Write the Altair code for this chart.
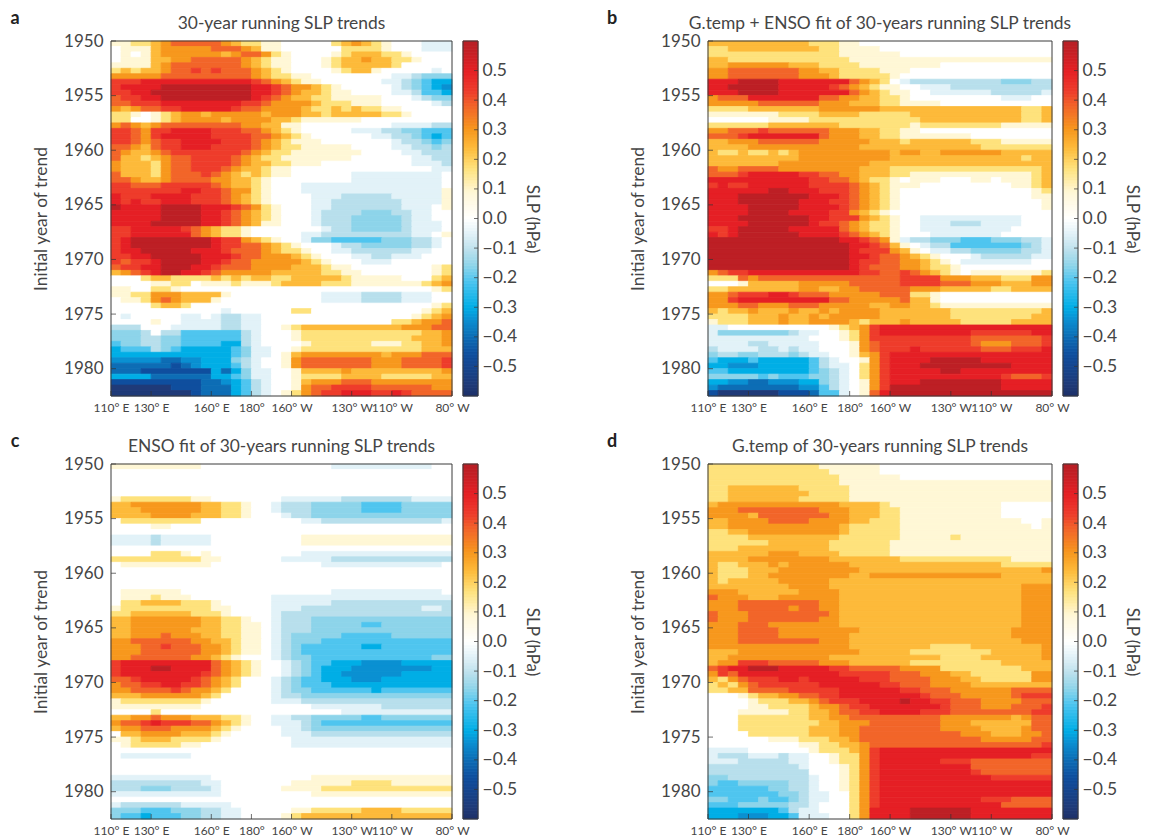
import altair as alt
import pandas as pd

alt.data_transformers.disable_max_rows()

LEVEL_KEYS = list('IHGFEDCBA.abcdefgh')
LEVEL_COLORS = ['#1F3A78', '#0F4E9E', '#0D6DB5', '#0A90D2', '#00AEE6', '#4FC5EF', '#8DD4EA', '#B8DFEC', '#E2F2F8',
                '#FFFFFF', '#FFF7D6', '#FEE27C', '#FDBA3A', '#F7981D', '#F26529', '#EE3C2B', '#E51F25', '#BD1F25']
BAR_STOPS = [-.6, -.56, -.46, -.4, -.34, -.3, -.21, -.16, -.11, -.05, 0, .09, .17, .24, .3, .38, .43, .5, .58, .6]
BAR_COLORS = ['#1D3068', '#1F3A78', '#0F4E9E', '#0D6DB5', '#0A90D2', '#00AEE6', '#4FC5EF', '#8DD4EA', '#B8DFEC',
              '#E2F2F8', '#FFFFFF', '#FFF7D6', '#FEE27C', '#FDBA3A', '#F7981D', '#F26529', '#EE3C2B', '#E51F25',
              '#BD1F25', '#B81E25']
YEAR_TICKS = [1950, 1955, 1960, 1965, 1970, 1975, 1980]
LON_TICKS = [110, 130, 160, 180, 200, 230, 250, 280]
BAR_TICKS = [-.5, -.4, -.3, -.2, -.1, 0, .1, .2, .3, .4, .5]

PANEL_A = """
aabbcdeeee edcbbaa... ..bcdcba.. .AAA
.aaacddddd eeedcaa... ...bbbba.. .AAA
.a.acddddd dcdeedba.. ..abcccbba ....
.aaaccddee eeedcbaa.. .abccdccbb a...
aaaacdeeee eeedcbaa.. .abcccccb. ....
bcbccdeefe feeedcba.. ..abcca... ..A.
dddddeeeee eeeedcbbaa ........AA BCCC
fffggggggg ggggfedcba a......AAB CDEE
fgggghhhhh hhhhggfedd cba.....AB CDEF
ffgghhhhhh hhhhggfedc cbaa....AA BDDE
effgghhhhh hhhhgfedcc bbaaaaa... ABCC
eefffggggg gggffedddd cbbbaaa... ..AB
dcdeeffggg ggfeeddddc bbcbcbbaa. ....
bba.abcddc dddddcdddc cbcccccbba ....
bb..abcddd dcddddccba aaaaa..... ....
dedcdeeeee eeeddccaa. ........AA AABB
ffedffgggg fffeedcba. ....AAABBC CDDD
ffedfggggg ffffeedcba ......AABB CDED
ffedeffggg gfffedcbaa a.......AB BCDC
eedceffggg ffffedcbba aaaa....AA BBCB
edccdeffff fffedcbbaa aaaaa....A ABBB
eccbcdeeff ffedcbbaaa aaaa...... AABB
dcccbdeeff ffedccbbaa a......... AAAB
dcccbdeeff fedccbaa.. .......... ..AA
ecccbdeeef edcbcbaa.. ....AAAAAA AAA.
eedccdeeee ddccba.... ....AAAAAA AAA.
ffeeefffff edccba...A AAAAAAAAAA AAA.
fffffffggf feddba...A AAAAAAAAAA AAAa
gfffggggff fedcba.... AAABBBBBAA AAAa
gfgffgggff fedcba.... AABBBBBBBA AAAa
hgggghhhhg ggfedba... AABBBBBBBA AA.a
ggggghhhhg gfedcba... ABBBBCCCBB AA..
ggggghhhhg gfedcba... ABBBCCCCCB AA..
gggghhhhhg gfedcaa... ABBBCCCCCB AAA.
ffgggggfed cbba...... .ABBCCCCCB AAA.
ffgggggged cbba.....A ABBBBBBBBB AA.a
fghhhhhhhh gffdcba..A CCDDDDDCCC BBA.
fghhhhhhhh gffeedcba. ..ABBCCCCC BBA.
fgghhhhhgg gfeeedcbba ..AABBBBBB AA..
ffgghhhhhg ggfeedddcb a...AABBAA A...
feffghhhhg gfeedddddc ba...AAA.. ....
effgghhhgg feeeddddcc cbaa...... ..ab
cdefghhggf edddddcccc cbbaa..... ..ab
...bccbbbb cbcbccbbcc cccbaaaaa. ..bc
....aabb.a aabaaabccc cbbbaaaaaa abcd
aa..bba... .......... .......... ..ab
aabbdddccc ca........ .AAAABBBBA AA..
.aabdedccc a......... .AAAABBBBA AA..
....bccb.. .......... .......... ..ab
.......... .A......bb .......... .abc
.A.....AA. ABBAA..... .......... abcd
....a..AAA ABBAA..... ........bb cdde
BBB...AAAA ABBAA..abc cccccccccd ddee
CCCB.BBDDD DDDBA...ab bbbbbbbbbb bccd
CCCBBCCDDD DDDBA...ab bbbbbbbbbb cccd
DCCBBCCDDD DEEBA....a bbbbbbaaab bccd
EDDDBCDEEE EEDCAA..ab bbbbbbbbbb bccc
EEEEEEEEEE EEDCAA.acd dddddddcdd deee
FFFFFGGFFE EECBA..ade eeeeeeddde eeef
GGGGGGHGFE EEDBA..ade eeeeeeddde eeef
GGGHHHHHHH EGECAA..ac cccdcccccc cccd
EEEEGGGGGG EEDCAA..ab bbbccccbbb bbcc
HHHHHHHHHG GFEDBA..ac dddeeedddd dddd
IIIIIIHHHG GGEDBA..ad eeffffeeee eedd
IIIIIIIIHG GGEDBA.abd effgggffgf eeee
"""

PANEL_B = """
cccccccccc bbbaa..... .......... ....
bbcccccccc cbbaaaa... .......... ....
bbbbbbbbbb bbbaaaaaa. .......... ....
ccbbbbbbbb bbbbaaaaaa aaaaaaaaaa aaaa
ccddddddcc cbbbbaaaaa aaa....... ....
ddeeeeeeed dccbbbbaaa .......... ....
ddeeeeeeed ddcbbbbba. .......... ....
ggghhhhggg ggggedcb.A BBBBBBBBBC CCBB
gghhhhhggg ggfedcbaa. .AAABBBBBB BBBB
ggghhhhggg ggggedcbaa ..AAAAAABB BBBA
deeegggggg geeddccbba .........A AA..
dddddeeeee edddcccbba aaa....... ....
bbbbcccccc cddddddccc cccccccccc cbbc
aaaaaaabbb bccccbbbbb cccccccccc cbbc
......aaaa bbbbbbbbbb bccccccccc cbbc
bbbbbbcccc cccbbbbbbb abbbbbbbba aaaa
ddeeefeeee eedddccbba a......... ....
eeefgggggg gedddccbba aaaaaa.... ....
ccdddeeeee edddddcccb ccccccbbba aaaa
ccccdddddd dddddccccc cccccccbbb bbbb
cbbcbbcbcd ddddddddcd dccddddddc cccc
cccccccccd ddddddddcc cccccccccc cbcc
cccccccddd ddddddcccc cccccccccc cccc
eddeeeeddd dddddcccbb bbbbbbbbbb bbbc
eeefgggggf feeddcccbb aaaaaaaaaa aabc
gggggggggg ffeedcbba. aaa...aa.a aabc
fgffgggggg ffffedcbaa a......... aabc
gggggghhgg gfffedcba. .......... ..ab
ggghhhhhhh gggfedcba. .......... ..aa
ggghhhhhhg ggffedcba. .......... ...a
gggghhhhhg gggfedcba. .......... ...a
gggghhhhgg ggffdcba.. .......... ....
ggghhhhhhh ggfffdcba. .AAAAAAAAA A...
gggghhhhhh gffedcbba. .AAABBBAAA A...
ffghhhhhgg gggedcbba. .AAAAAAAAA ....
gfghhhhhhg gggfedcba. ..AAAAAAA. ....
hhhhhhhhhh hhhggfedaA BBCCCDDDCC CBBA
hhhhhhhhhh hhhhggfeca .ABBDDDDDD DCBA
hhhhhhhhhh hhhhgfffdc a.AABBCCCC CBBA
hhhhhhhhhh hhhhggfeed cba...ABBB BBAA
hhhhhhhhhh hhhhgffeed dcba.AAAAA AA..
hhhhhhhhhh hhhhgfeeed dcbba..... ....
deffgggggg gggggffeef edcba.aaaa aaab
bbbedeeeee eeeeeeeeef fffdddcccb bbdd
...acccccd ddddeeeeef fffeeedddc ccdd
bbcccccccd dccddeeeee dddcccccbb cccc
ddefffggfe eedddddeee bba....... ....
ddfggggggg ggeeddddde cca....... ....
dddeedddee edddddccdd ccbaaaaaaa aaaa
cbccdcccdc cdcddddccc ccccbbbbbb bbbc
bbbbcccdcc dcdddddccc ccccbbbbbb bbcc
abbbcccdcc ddddcbcccd cccccbbbbb cccc
AA........ ..abcdfggg gggggggggg gggg
ACCCCCCCBA A..abdfggg ggggggffff ffgg
AAAAAAAAAA ...abdffff ffffffeeee eeef
AAAABBAAAA A...adefff ffffffeddd eeef
BAAAABBABA A...adefff gffffffeee fffg
CBBCCBBBCB AA..acdfgg gggggggggg gggg
DEEEDEEEEE DBA..adfgg gghhhhhggg gggg
EEFFFEEEEE DBAA.bdfgg ghhhhhhhhh gggg
DDEEEEEEEE DCBA.bdfgg ggghhggggg gggg
CCCCCDCDDD CCBA.bdfgg gggggggggf eeef
EEFFGGFFFE ECBA.adfgg ghhhhhhhhg gggg
FGGGGGGGGF FDBA.adfhh hhhhhhhhhg gggg
HIIIIIIHHH GDDA.aeghh hhhhhhhhhh hhhh
"""

PANEL_C = """
aaaaaaaaa. .......... ..AAAAAAAA AA..
.......... .......... .......... ....
.......... .......... .......... ....
.......... .......... .......... ....
.......... .......... .......... ....
.......... .......... .......... ....
abbbbbbbaa .......AAA AAABBBBBBB AAAA
ccdddddddc cbba..ABBB CCCCCDDDDC CCCC
cccddddddc cbba..ABBB CCCCCDDDDC CCCC
ccccddddcc cbba...ABB CCCCCCCCCC CCCC
.bbbbbbbb. .........A ABBBBBBBBB BBBA
....aa.... .......... .......... ....
.......... .......... .......... ....
AAAABAAAAA .........a aaaaaaaaaa aaaa
AAAABAAAAA .........a aaaaaaaaaa aaaa
.......... .......... .......... ....
....bbba.a .........A AAAAAAAAAA AAAA
bbbbbbbbba a......AAA AABBBBBBBB BBBB
.aaaaaaaaa .......... .AAAAAAAAA AAA.
.......... .......... .......... ....
.......... .......... .......... ....
.......... .......... .......... ....
.......... .......... .......... ....
.aaaaaa... .......... ..AAAAAAAA AAA.
.aaabaaa.. ......AAAA AAAAAAAAAA AAAA
.bbccccbbb a.....AAAA AABBBBBBBB BBBB
abbbbbbbbb aa....AAAB BBBBBBBBBB BAAB
bbccccccbb ba....ABBB BBBBBBBBBB BBBB
ccdddddddc cbba..ABBB CCCCCCCCCC CCCC
ccdddddddc cbbaa.ABBB CCCCCDDCCC CCCC
ccddddddcc cbbaa.ABBB CCCCCCCCCC CCCC
ccdddedddc cbbaa.ABCC CCCDDDDDCC CCCC
ddeeeeeedd ccbaa.ABCC CDDDDDDDDD DDDD
dddeefeeed dcbaa.ABCD DDDDDEEDDD DDDD
dddeeeeeed dcbaa.ABCD DDDDDDDDDD DDDD
ddeeeeeedd cba...ABCC DDDDDDDDDD DDCC
fggggggggg edcba..ABC DDEEEFFFFE EEEE
fggghhgggg edcba..ABC DEEEFFFFFF FFEE
fggggggggf edcba..ABC DEEFFFFFFE EEEE
eefgggggfe dcb...ABCD DEEEFFFEEE EEEE
deeffggffe dcb...ABCD DDEEEEEEEE EEEE
ddeeeefedd cb....ABCC DDDDDDEDDD DDDD
cccddddddc b.....ABBC CCCCCCCCCC CCCC
abbbbbbbba ......AAAB BBBBBBBBBB BBBB
aaaaaaaaa. .......... AAAAAAABBB BBBB
....b..... .......... ...AAAAAAA AAAA
ccddedddcc cbba..AABB CCCCCDDCCC CCCC
deefgfffee dcba..AAAB CDDDDDDDDD DDDD
cddeeedddd cba....AAB CCCCCCCCCC CCCC
.ccddddccc ba.....AAA BBBBBBBBBB BBBB
aabcccbbbb a.......AA AAAAAAAAAA AAAA
.abbbbbaa. ........AA AAAAAAAAAA AAAA
.......... .......... .......... ....
.AAAAAAA.. .......... .......... ....
.......... .......... .......... ....
.......... .......... .......... ....
.......... .......... .......... ....
AAAAAAAAAA .......... aaaaaaaaaa aaaa
BBBBBBBBBA A.......aa aaaabbbbaa aaaa
BBBCCCBBBB A......aaa abbbbbbbbb bbbb
AAAAAAAAAA A......... aaaaaaaaaa aaaa
.......... .......... .......... ....
ABBBBBBAAA AA........ .......... ....
CCCDDDCCCB BAA.....aa bbbbbccccb bbbb
CDDEDDDCCB BAA....abc cccccccccc cccc
"""

PANEL_D = """
bbbbbbbbbb baaaaaa... .......... ....
bbbbbbbbbb bbaaaaa... .......... ....
bbbbbbbbbb bbbaaaaaa. .......... ....
bbbbbbbbbb bbbaaaaaaa aaaaaaaaaa aaaa
bbcccccccb bbbbaaaaaa aaaaaaaaaa aaaa
bbcccccccc bbbbaaaaaa aaaaaaaaaa aaaa
bbcccccccb bbbbaaaaaa aaaaaaaaaa aaaa
cddddddddd dddccccbaa aaaaaaaaa. ....
dddeeeeeee edddcccbba aaaaaaaaa. ....
ddddceeeee eeddcccbba aaaaaaaaa. ....
ccddddeeee ddddccbbba aaaaaaaaaa a..a
ccdddddddd dddcbbbbba aaaaaaaaaa aa.a
bbccdddddd dddcbbbbba aaaaaaaaaa aaaa
bbbbcccccc cccbbbbbba aaaabaaaaa aaaa
bbbbbbcccc ccbbbbbbaa aaaaaaaaaa aaaa
bbbccccccc ccbbbbbbaa aaaaaaaaaa aaaa
ccccccdddc cccbbbbbaa aaaaaaaaaa aaaa
ccccdddddd ddcccccccb bbbbbbbbbb aaaa
cbbcccdcdd ddddcccccc cccccccccb bbbb
cbbbcccddd dddddccccc cccccccccc cccd
cbbbccdddd ddddccdddd dddddddddc cccc
cbcccccddd ddcccccccc cccccccccc cccc
ccccccccdd ddcccccccc cccccccccc cddd
dddccccccd dddccccccc cccccccccc cddd
edddcccddd dddccccccc cccccccccc cddd
dddeeeeeee eddccccccc cccccccccc cddd
dddeeeeede eddccccccc cccccccccc cddd
edddeeeeee eedccccccc cccccccccc cddd
edddeeeeee eddccccccc cccccccccc cddd
dddeeedddd dddccccccc cccccccccc cddd
dddeeeeddd dddddccccc cccccccccc dddd
dddeeeeddd ddddcccccc cccccccccc dddd
dddeeeeeee edddcccccc cccccccccc cddd
dddddddddd ddddcccccc ccbbbbcccc cccd
cccddddddd dddddccccc bbbbbbbbcc cccd
ccdddddddd ddcccccccc cccbbbbccc cccd
cddfffeeee edddcccccc bbbbbbbbbc cccc
efgghhhggg ggffeeeeed dddbbbbbbb bccc
dfeggggggg gggfffffee edddccbbbb bbdd
cbdefffggf gggggfffee eedddccbbb bbdd
bcbdefffff fggggggffe eeddddcccc cccc
bbcceeeeff fffggggggf feeedddddd eeee
...abccdde effggggggg gfeeeddddd efff
....abbbcc defffggggh ggffeeeddd deee
....aabbbb cddeffgggg gggfeeeddd eeef
...aaaaabb ccdeeffggg gfffeeeeee eeff
...bbbbbbb ccddeeeeee eeeddddddd cdee
...bbbbbbb bccdddeeee eeedddcccc ccee
...bbbbbbb cccddeeeee eeeddddccc cdee
....bbbbbb cccddeeeee eeeeedddcc cdde
......aaab bbccdeeeee eeeeeeeddd ddee
.........a abbccdeeee eeeeeeeeee eeef
AAAA...... abbbcdfggg gggggggggg gggg
ABBBAAABAA ..abbdfggg gggggggggg ggff
AAABBBBBAA ..abbdfggg gggfffeeee eeee
BBBBBBBBBA ...abdfggg ggggggeeee eeee
BBBBBBBBBB ...abdfggg ggggggfeee eeee
CCBBBBBBBB A..abdfggg ggggggggff ffff
CDDCCCCCBB A..abdfggg gggggggggg gggg
DDDDDDCCBB A..abdfggg gggggggggg gggg
DDDDDDDCCB AA..bdfggg gggggggggg gggg
CCDDDCDDCB AA..bdfggg gggggggfff eeee
DDDCCCCCBB A...bdfggg ggggggggge eeee
EEEEEEEDBA A...bdgggg hhhhhhgggg gggg
EEEFFFEEDA AA..bdgggg hhhhhhgggg gggg
"""

TEXT = '#454545'
FONT = 'Lato'
HEIGHT = 355
YEAR0, YEAR1 = 1950, 1982.5
LON0, LON1 = 110, 280
STEP_LON, STEP_YEAR = 5, 0.5

level_scale = alt.Scale(domain=LEVEL_KEYS, range=LEVEL_COLORS)
bar_color_scale = alt.Scale(domain=BAR_STOPS, range=BAR_COLORS, interpolate='rgb')
x_scale = alt.Scale(domain=[LON0, LON1], nice=False, zero=False)
y_scale = alt.Scale(domain=[YEAR0, YEAR1], nice=False, zero=False, reverse=True)
bar_scale = alt.Scale(domain=[-.6, .6], nice=False)

x_axis = alt.Axis(
    values=LON_TICKS, ticks=False, domain=False, grid=False, title=None, labelOverlap=False,
    labelFontSize=12, labelColor=TEXT, labelFont=FONT, labelPadding=6, labelFlush=False,
    labelExpr="datum.value < 180 ? datum.value + '° E' : datum.value == 180 ? '180°' : (360 - datum.value) + '° W'")
y_axis = alt.Axis(
    values=YEAR_TICKS, format='d', ticks=False, domain=False, grid=False,
    title='Initial year of trend', titleFontSize=17.4, titleFontWeight='normal', titleColor=TEXT,
    titleFont=FONT, titlePadding=13, labelFontSize=17, labelColor=TEXT, labelFont=FONT, labelPadding=8)
bar_axis = alt.Axis(
    values=BAR_TICKS, ticks=False, domain=False, grid=False, orient='right', title='SLP (hPa)',
    titleFontSize=17, titleFontWeight='normal', titleColor=TEXT, titleFont=FONT, titlePadding=6,
    labelFontSize=17.5, labelColor=TEXT, labelFont=FONT, labelPadding=4,
    labelExpr="replace(format(datum.value, '.1f'), '-', '−')")


def table(text):
    recs = []
    for i, row in enumerate(text.strip().splitlines()):
        row = row.replace(' ', '')
        row = row[:34].ljust(34, row[-1])
        start = 0
        for j in range(1, 35):
            if j == 34 or row[j] != row[start]:
                recs.append({'lon': LON0 + STEP_LON * start, 'lon2': LON0 + STEP_LON * j,
                             'yr': YEAR0 + STEP_YEAR * i, 'yr2': YEAR0 + STEP_YEAR * (i + 1),
                             'k': row[start]})
                start = j
    return pd.DataFrame(recs)


def panel(text, title, letter, width):
    base = alt.Chart(table(text)).mark_rect(strokeWidth=0.8).encode(
        x=alt.X('lon:Q', scale=x_scale, axis=x_axis),
        x2='lon2:Q',
        y=alt.Y('yr:Q', scale=y_scale, axis=y_axis),
        y2='yr2:Q',
        color=alt.Color('k:N', scale=level_scale, legend=None),
        stroke=alt.Stroke('k:N', scale=level_scale, legend=None),
    )
    yt = alt.Chart(pd.DataFrame({'t': YEAR_TICKS})).mark_tick(orient='horizontal', size=5, thickness=1, color='#333').encode(
        y=alt.Y('t:Q', scale=y_scale, axis=y_axis), x=alt.value(2.5))
    xt = alt.Chart(pd.DataFrame({'t': LON_TICKS})).mark_tick(orient='vertical', size=5, thickness=1, color='#333').encode(
        x=alt.X('t:Q', scale=x_scale, axis=x_axis), y=alt.value(HEIGHT - 2.5))
    frame = alt.Chart(pd.DataFrame({'k0': [0]})).mark_rect(fill=None, stroke='#3a3a3a', strokeWidth=1).encode(
        x=alt.value(0), x2=alt.value(width), y=alt.value(0), y2=alt.value(HEIGHT))
    label = alt.Chart(pd.DataFrame({'t': [letter]})).mark_text(
        fontSize=18, fontWeight='bold', font=FONT, color='#222', align='center', baseline='middle').encode(
        text='t:N', x=alt.value(-96), y=alt.value(-22))
    head = alt.Chart(pd.DataFrame({'t': [title]})).mark_text(
        fontSize=17.4, font=FONT, color=TEXT, align='center', baseline='middle').encode(
        text='t:N', x=alt.value(width / 2), y=alt.value(-17))
    return alt.layer(base, yt, xt, frame, label, head).properties(width=width, height=HEIGHT)


def colorbar():
    lo = [round(-0.6 + 0.01 * k, 2) for k in range(120)]
    df = pd.DataFrame({'v': [v + 0.005 for v in lo], 'lo': lo, 'hi': [round(v + 0.01, 2) for v in lo]})
    ramp = alt.Chart(df).mark_rect(strokeWidth=0.8).encode(
        x=alt.value(0), x2=alt.value(15),
        y=alt.Y('lo:Q', scale=bar_scale, axis=bar_axis),
        y2='hi:Q',
        color=alt.Color('v:Q', scale=bar_color_scale, legend=None),
        stroke=alt.Stroke('v:Q', scale=bar_color_scale, legend=None),
    )
    ticks = alt.Chart(pd.DataFrame({'t': BAR_TICKS})).mark_tick(orient='horizontal', size=4, thickness=1, color='#333').encode(
        y=alt.Y('t:Q', scale=bar_scale, axis=bar_axis), x=alt.value(13))
    frame = alt.Chart(pd.DataFrame({'k0': [0]})).mark_rect(fill=None, stroke='#3a3a3a', strokeWidth=1).encode(
        x=alt.value(0), x2=alt.value(15), y=alt.value(0), y2=alt.value(HEIGHT))
    return alt.layer(ramp, ticks, frame).properties(width=15, height=HEIGHT)


def pair(text, title, letter, width):
    return alt.hconcat(panel(text, title, letter, width), colorbar(), spacing=11, bounds='flush')


row1 = alt.hconcat(pair(PANEL_A, '30-year running SLP trends', 'a', 341),
                   pair(PANEL_B, 'G.temp + ENSO fit of 30-years running SLP trends', 'b', 344), spacing=65)
row2 = alt.hconcat(pair(PANEL_C, 'ENSO fit of 30-years running SLP trends', 'c', 341),
                   pair(PANEL_D, 'G.temp of 30-years running SLP trends', 'd', 344), spacing=65)
chart = alt.vconcat(row1, row2, spacing=20).resolve_scale(color='independent', stroke='independent').properties(
    padding={'left': 2, 'top': 2, 'right': 0, 'bottom': 0}, background='white'
).configure_view(stroke=None)

chart.save("out.html", embed_options={"renderer": "svg", "actions": False})
